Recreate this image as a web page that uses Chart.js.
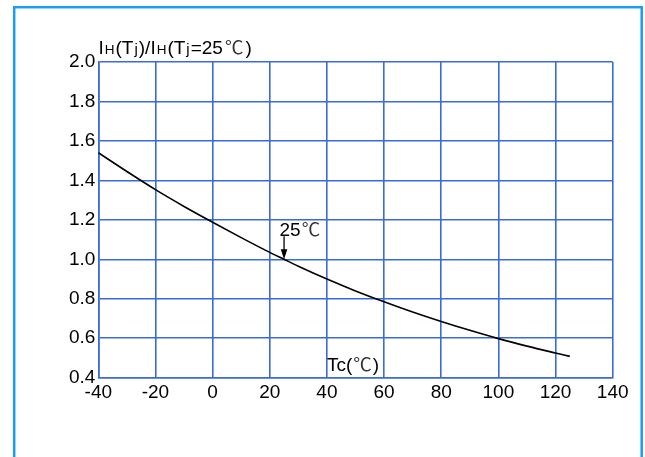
<!DOCTYPE html>
<html>
<head>
<meta charset="utf-8">
<script src="https://cdn.jsdelivr.net/npm/chart.js@4/dist/chart.umd.min.js"></script>
<style>
  html, body { margin: 0; padding: 0; background: #fff; }
  canvas { display: block; }
</style>
</head>
<body>
<canvas id="ihChart" width="645" height="457"></canvas>
<script>
var TEMPS = [-40, -30, -20, -10, 0, 10, 20, 25, 30, 40, 50, 60, 70, 80, 90, 100, 110, 120, 125];
var RATIO = [1.54, 1.445, 1.353, 1.268, 1.188, 1.11, 1.035, 1.0, 0.965, 0.9, 0.84, 0.785, 0.733, 0.685, 0.64, 0.598, 0.56, 0.525, 0.508];
var X_TICKS = [-40, -20, 0, 20, 40, 60, 80, 100, 120, 140];
var Y_TICKS = [0.4, 0.6, 0.8, 1.0, 1.2, 1.4, 1.6, 1.8, 2.0];

var GRID = '#3a6bdc';
var FONT = '"Liberation Sans", Arial, sans-serif';
var CJK = '"Noto Sans CJK SC", sans-serif';

// draws a row of text pieces with their own sizes / fonts
function drawPieces(ctx, x, y, pieces) {
  pieces.forEach(function (p) {
    ctx.font = p[1] + 'px ' + (p[2] || FONT);
    ctx.fillStyle = p[3] || '#000';
    ctx.fillText(p[0], x, y);
    x += ctx.measureText(p[0]).width + (p[4] || 0);
  });
}

var extras = {
  id: 'extras',
  afterDraw: function (chart) {
    var ctx = chart.ctx;
    var xs = chart.scales.x, ys = chart.scales.y;
    ctx.save();
    ctx.textBaseline = 'alphabetic';
    ctx.textAlign = 'left';

    // y axis title
    drawPieces(ctx, 98.5, 54, [
      ['I', 19, null, null, 1], ['H', 13.5, null, null, 1], ['(T', 19, null, null, 1],
      ['j', 15, null, null, 1], [')/I', 19, null, null, 1], ['H', 13.5, null, null, 1],
      ['(T', 19, null, null, 1], ['j', 15, null, null, 1], ['=25', 19, null, null, 2],
      ['℃', 18.5, CJK, '#333', 2], [')', 19]
    ]);

    // x axis title
    drawPieces(ctx, 327, 371, [['Tc(', 19, null, null, 1], ['℃', 18.5, CJK, '#333', 1], [')', 19]]);

    // 25℃ marker
    var px = xs.getPixelForValue(25), py = ys.getPixelForValue(1.0);
    drawPieces(ctx, 279.5, 236, [['25', 19, null, null, 1], ['℃', 18.5, CJK, '#333']]);
    ctx.strokeStyle = '#000';
    ctx.lineWidth = 1.3;
    ctx.beginPath();
    ctx.moveTo(px, py - 23);
    ctx.lineTo(px, py - 9);
    ctx.stroke();
    ctx.fillStyle = '#000';
    ctx.beginPath();
    ctx.moveTo(px - 3.3, py - 10);
    ctx.lineTo(px + 3.3, py - 10);
    ctx.lineTo(px, py);
    ctx.closePath();
    ctx.fill();

    // outer frame
    ctx.strokeStyle = '#1e9bf5';
    ctx.lineWidth = 2.5;
    ctx.strokeRect(14.2, 7.2, 627.5, 470);
    ctx.restore();
  }
};

new Chart(document.getElementById('ihChart'), {
  type: 'line',
  data: {
    datasets: [{
      data: TEMPS.map(function (t, i) { return { x: t, y: RATIO[i] }; }),
      borderColor: '#000',
      borderWidth: 1.6,
      pointRadius: 0,
      cubicInterpolationMode: 'monotone',
      fill: false,
    }],
  },
  options: {
    responsive: false,
    animation: false,
    layout: { padding: { left: 0, top: 62, right: 32.3, bottom: 49.3 } },
    plugins: { legend: { display: false }, tooltip: { enabled: false } },
    scales: {
      x: {
        type: 'linear',
        min: -40, max: 140,
        afterBuildTicks: function (s) { s.ticks = X_TICKS.map(function (v) { return { value: v }; }); },
        afterFit: function (s) { s.height = 30; },
        grid: { color: GRID, lineWidth: 1.6, drawTicks: false },
        border: { color: GRID, width: 1.6 },
        ticks: { color: '#000', padding: 4, maxRotation: 0, font: { family: FONT, size: 19 } },
      },
      y: {
        min: 0.4, max: 2.0,
        afterBuildTicks: function (s) { s.ticks = Y_TICKS.map(function (v) { return { value: v }; }); },
        afterFit: function (s) { s.width = 98.3; },
        grid: { color: GRID, lineWidth: 1.6, drawTicks: false },
        border: { color: GRID, width: 1.6 },
        ticks: {
          color: '#000', padding: 3, font: { family: FONT, size: 19 },
          callback: function (v) { return Number(v).toFixed(1); },
        },
      },
    },
  },
  plugins: [extras],
});
</script>
</body>
</html>
